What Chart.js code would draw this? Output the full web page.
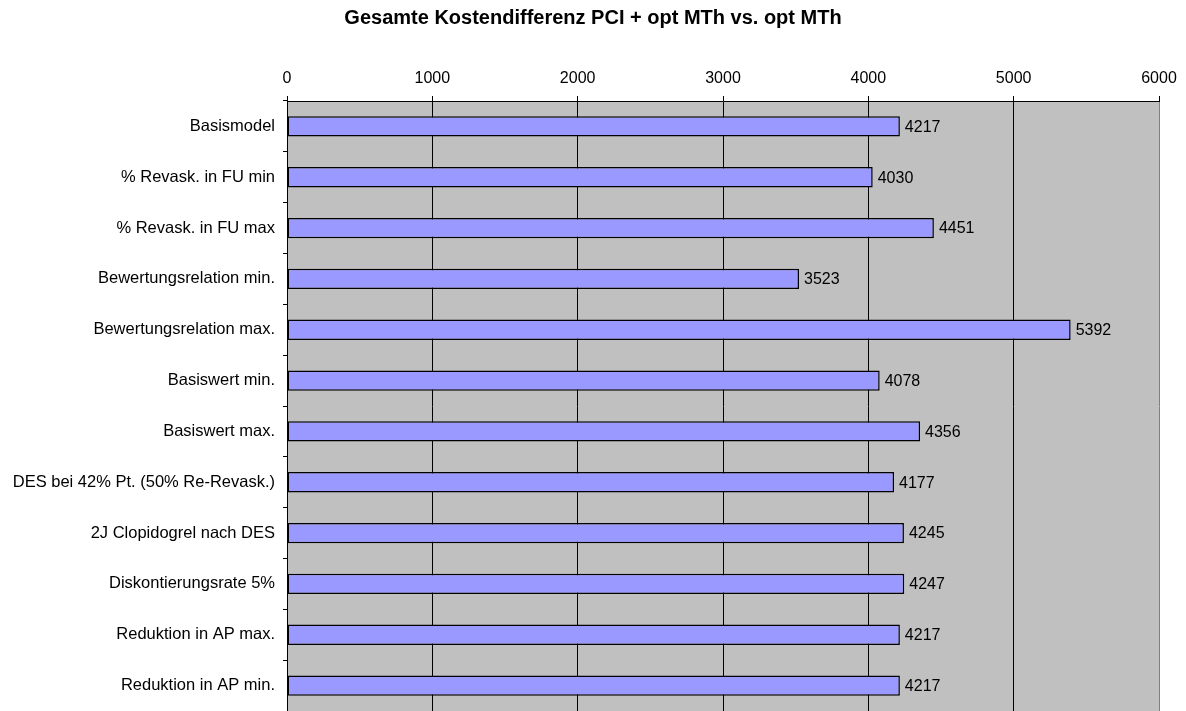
<!DOCTYPE html>
<html>
<head>
<meta charset="utf-8">
<script src="https://cdn.jsdelivr.net/npm/chart.js@4/dist/chart.umd.min.js"></script>
<style>
  html, body { margin: 0; padding: 0; background: #fff; }
  #wrap { width: 1186px; height: 711px; position: relative; }
</style>
</head>
<body>
<div id="wrap"><canvas id="kostenChart"></canvas></div>
<script>
const titleText = "Gesamte Kostendifferenz PCI + opt MTh vs. opt MTh";
const categories = [
  "Basismodel",
  "% Revask. in FU min",
  "% Revask. in FU max",
  "Bewertungsrelation min.",
  "Bewertungsrelation max.",
  "Basiswert min.",
  "Basiswert max.",
  "DES bei 42% Pt. (50% Re-Revask.)",
  "2J Clopidogrel nach DES",
  "Diskontierungsrate 5%",
  "Reduktion in AP max.",
  "Reduktion in AP min."
];
const kostenDiff = [4217, 4030, 4451, 3523, 5392, 4078, 4356, 4177, 4245, 4247, 4217, 4217];
const xMin = 0;
const xMax = 6000;
const xStep = 1000;

const FONT = "Arial, 'Liberation Sans', sans-serif";

// grey plot background
const plotBg = {
  id: 'plotBg',
  beforeDraw(chart) {
    const { ctx, chartArea: a } = chart;
    ctx.save();
    ctx.fillStyle = '#C0C0C0';
    ctx.fillRect(a.left, a.top, a.right - a.left, a.bottom - a.top);
    ctx.restore();
  }
};

// value labels right of each bar
const valueLabels = {
  id: 'valueLabels',
  afterDatasetsDraw(chart) {
    const { ctx } = chart;
    const meta = chart.getDatasetMeta(0);
    ctx.save();
    ctx.font = '16px ' + FONT;
    ctx.fillStyle = '#000';
    ctx.textAlign = 'left';
    ctx.textBaseline = 'middle';
    meta.data.forEach((bar, i) => {
      ctx.fillText(String(kostenDiff[i]), bar.x + 5, bar.y + 1);
    });
    ctx.restore();
  }
};

new Chart(document.getElementById('kostenChart'), {
  type: 'bar',
  data: {
    labels: categories,
    datasets: [{
      data: kostenDiff,
      backgroundColor: '#9999FF',
      borderColor: '#000',
      borderWidth: 1.5,
      borderSkipped: false,
      barPercentage: 0.4,
      categoryPercentage: 1.0
    }]
  },
  options: {
    indexAxis: 'y',
    responsive: true,
    maintainAspectRatio: false,
    animation: false,
    layout: { padding: 0 },
    plugins: {
      legend: { display: false },
      tooltip: { enabled: false },
      title: {
        display: true,
        text: titleText,
        color: '#000',
        font: { family: FONT, size: 20, weight: 'bold' },
        padding: { top: 6, bottom: 8.4 }
      }
    },
    scales: {
      x: {
        position: 'top',
        min: xMin,
        max: xMax,
        afterFit(scale) {
          scale.height = 62.6;
          scale.paddingLeft = 0;
          scale.paddingRight = 27; // room right of the plot
        },
        ticks: {
          stepSize: xStep,
          color: '#000',
          padding: 8,
          font: { family: FONT, size: 16 },
          callback: v => String(v)
        },
        grid: {
          color: ctx => (ctx.tick && ctx.tick.value === xMax) ? '#808080' : '#000',
          lineWidth: 1,
          tickLength: 5,
          tickColor: '#000'
        },
        border: { color: '#000', width: 1 }
      },
      y: {
        afterFit(scale) {
          scale.width = 287;
          scale.paddingTop = 0;
          scale.paddingBottom = 0;
        },
        ticks: {
          color: '#000',
          padding: 8,
          font: { family: FONT, size: 16.5 }
        },
        grid: {
          drawOnChartArea: false,
          tickLength: 4,
          color: '#000'
        },
        border: { color: '#000', width: 1 }
      }
    }
  },
  plugins: [plotBg, valueLabels]
});
</script>
</body>
</html>
